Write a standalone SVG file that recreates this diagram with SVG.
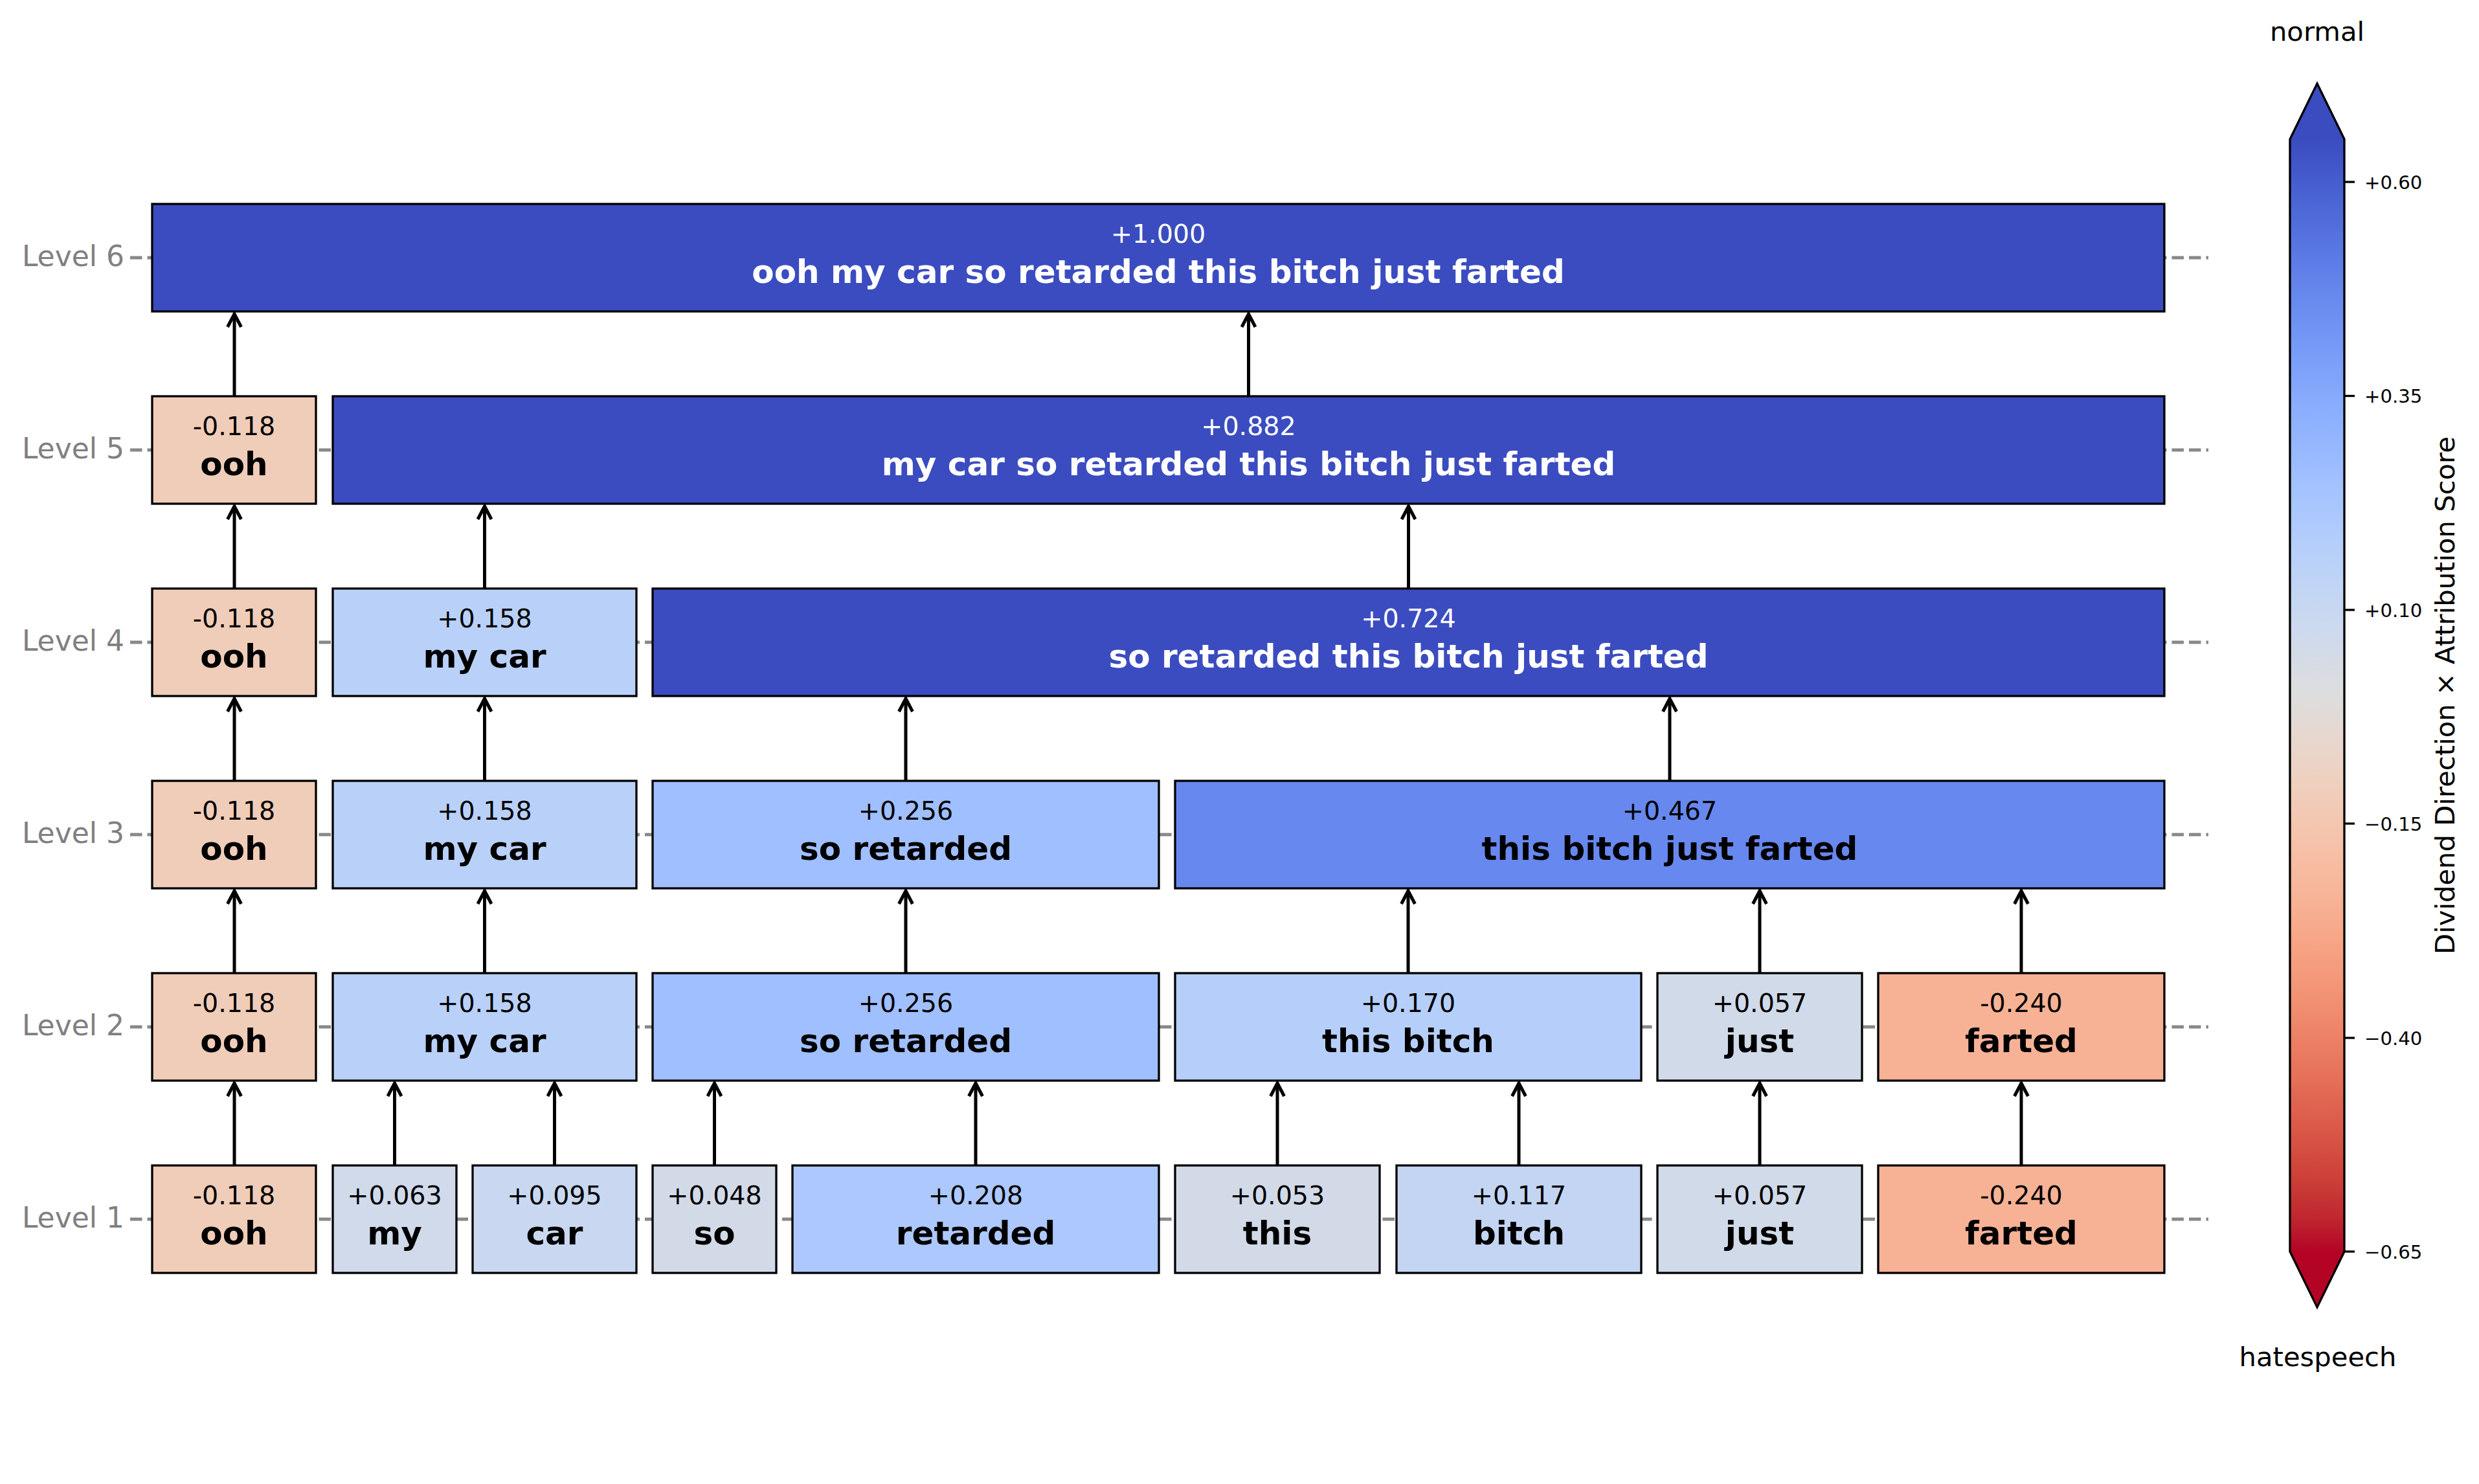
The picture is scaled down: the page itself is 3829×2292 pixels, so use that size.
<svg xmlns="http://www.w3.org/2000/svg" width="3829" height="2292" viewBox="0 0 3829 2292">
<style>
text{font-family:"DejaVu Sans","Liberation Sans",sans-serif}
.bg{fill:#ffffff}
.grid{stroke:#888888;stroke-width:5;stroke-dasharray:18.5 8;fill:none}
.box{stroke:#000000;stroke-width:3.3}
.sc{font-size:39.6px;text-anchor:middle;fill:#000000}
.wd{font-size:50px;font-weight:bold;text-anchor:middle;fill:#000000}
.wh{fill:#ffffff}
.lvl{font-size:44px;text-anchor:end;fill:#808080}
.arr{stroke:#000000;stroke-width:5;fill:none;marker-end:url(#ah)}
.tick{stroke:#000000;stroke-width:3.3}
.tl{font-size:29.2px;fill:#000000}
.cb{font-size:41.7px;fill:#000000;text-anchor:middle}
</style>
<defs>
<marker id="ah" markerUnits="userSpaceOnUse" viewBox="-30 -15 35 30" refX="0" refY="0" markerWidth="35" markerHeight="30" orient="auto" overflow="visible">
<path d="M-20,-10.5 L0,0 L-20,10.5" fill="none" stroke="#000000" stroke-width="5"/>
</marker>
<linearGradient id="cw" x1="0" y1="0" x2="0" y2="1">
<stop offset="0" stop-color="#3b4cc0"/>
<stop offset="0.03125" stop-color="#445acc"/>
<stop offset="0.0625" stop-color="#4d68d7"/>
<stop offset="0.09375" stop-color="#5775e1"/>
<stop offset="0.125" stop-color="#6282ea"/>
<stop offset="0.15625" stop-color="#6c8ef1"/>
<stop offset="0.1875" stop-color="#779af7"/>
<stop offset="0.21875" stop-color="#82a5fb"/>
<stop offset="0.25" stop-color="#8db0fe"/>
<stop offset="0.28125" stop-color="#98b9ff"/>
<stop offset="0.3125" stop-color="#a3c2ff"/>
<stop offset="0.34375" stop-color="#aec9fd"/>
<stop offset="0.375" stop-color="#b8d0f9"/>
<stop offset="0.40625" stop-color="#c2d5f4"/>
<stop offset="0.4375" stop-color="#ccd9ee"/>
<stop offset="0.46875" stop-color="#d5dbe6"/>
<stop offset="0.5" stop-color="#dddddd"/>
<stop offset="0.53125" stop-color="#e5d8d1"/>
<stop offset="0.5625" stop-color="#ecd3c5"/>
<stop offset="0.59375" stop-color="#f1ccb8"/>
<stop offset="0.625" stop-color="#f5c4ac"/>
<stop offset="0.65625" stop-color="#f7bba0"/>
<stop offset="0.6875" stop-color="#f7b194"/>
<stop offset="0.71875" stop-color="#f7a687"/>
<stop offset="0.75" stop-color="#f49a7b"/>
<stop offset="0.78125" stop-color="#f18d6f"/>
<stop offset="0.8125" stop-color="#ec7f63"/>
<stop offset="0.84375" stop-color="#e57058"/>
<stop offset="0.875" stop-color="#de604d"/>
<stop offset="0.90625" stop-color="#d55042"/>
<stop offset="0.9375" stop-color="#cb3e38"/>
<stop offset="0.96875" stop-color="#c0282f"/>
<stop offset="1" stop-color="#b40426"/>
</linearGradient>
</defs>
<rect class="bg" x="0" y="0" width="3829" height="2292"/>

<g id="gridlines">
<line class="grid" x1="201" y1="398" x2="3411" y2="398"/>
<line class="grid" x1="201" y1="695" x2="3411" y2="695"/>
<line class="grid" x1="201" y1="992" x2="3411" y2="992"/>
<line class="grid" x1="201" y1="1289" x2="3411" y2="1289"/>
<line class="grid" x1="201" y1="1586" x2="3411" y2="1586"/>
<line class="grid" x1="201" y1="1883" x2="3411" y2="1883"/>
</g>

<g id="level-labels">
<text class="lvl" x="192" y="410.5">Level 6</text>
<text class="lvl" x="192" y="707.5">Level 5</text>
<text class="lvl" x="192" y="1004.5">Level 4</text>
<text class="lvl" x="192" y="1301.5">Level 3</text>
<text class="lvl" x="192" y="1598.5">Level 2</text>
<text class="lvl" x="192" y="1895.5">Level 1</text>
</g>

<g id="connectors">
<line class="arr" x1="362" y1="612" x2="362" y2="485"/>
<line class="arr" x1="1928.5" y1="612" x2="1928.5" y2="485"/>
<line class="arr" x1="362" y1="909" x2="362" y2="782"/>
<line class="arr" x1="748.5" y1="909" x2="748.5" y2="782"/>
<line class="arr" x1="2175.5" y1="909" x2="2175.5" y2="782"/>
<line class="arr" x1="362" y1="1206" x2="362" y2="1079"/>
<line class="arr" x1="748.5" y1="1206" x2="748.5" y2="1079"/>
<line class="arr" x1="1399" y1="1206" x2="1399" y2="1079"/>
<line class="arr" x1="2579" y1="1206" x2="2579" y2="1079"/>
<line class="arr" x1="362" y1="1503" x2="362" y2="1376"/>
<line class="arr" x1="748.5" y1="1503" x2="748.5" y2="1376"/>
<line class="arr" x1="1399" y1="1503" x2="1399" y2="1376"/>
<line class="arr" x1="2175" y1="1503" x2="2175" y2="1376"/>
<line class="arr" x1="2718" y1="1503" x2="2718" y2="1376"/>
<line class="arr" x1="3122" y1="1503" x2="3122" y2="1376"/>
<line class="arr" x1="362" y1="1800" x2="362" y2="1673"/>
<line class="arr" x1="609.5" y1="1800" x2="609.5" y2="1673"/>
<line class="arr" x1="856.5" y1="1800" x2="856.5" y2="1673"/>
<line class="arr" x1="1103.5" y1="1800" x2="1103.5" y2="1673"/>
<line class="arr" x1="1507" y1="1800" x2="1507" y2="1673"/>
<line class="arr" x1="1973" y1="1800" x2="1973" y2="1673"/>
<line class="arr" x1="2346" y1="1800" x2="2346" y2="1673"/>
<line class="arr" x1="2718" y1="1800" x2="2718" y2="1673"/>
<line class="arr" x1="3122" y1="1800" x2="3122" y2="1673"/>
</g>

<!-- Level 6 -->
<g id="l6-all">
<rect class="box" x="235" y="315" width="3108" height="166" fill="#3b4cc0"/>
<text class="sc wh" x="1789" y="375">+1.000</text>
<text class="wd wh" x="1789" y="436.5">ooh my car so retarded this bitch just farted</text>
</g>

<!-- Level 5 -->
<g id="l5-ooh">
<rect class="box" x="235" y="612" width="253" height="166" fill="#f0cdb9"/>
<text class="sc" x="361.5" y="672">-0.118</text>
<text class="wd" x="361.5" y="733.5">ooh</text>
</g>
<g id="l5-rest">
<rect class="box" x="514" y="612" width="2829" height="166" fill="#3b4cc0"/>
<text class="sc wh" x="1928.5" y="672">+0.882</text>
<text class="wd wh" x="1928.5" y="733.5">my car so retarded this bitch just farted</text>
</g>

<!-- Level 4 -->
<g id="l4-ooh">
<rect class="box" x="235" y="909" width="253" height="166" fill="#f0cdb9"/>
<text class="sc" x="361.5" y="969">-0.118</text>
<text class="wd" x="361.5" y="1030.5">ooh</text>
</g>
<g id="l4-mycar">
<rect class="box" x="514" y="909" width="469" height="166" fill="#b9d1f8"/>
<text class="sc" x="748.5" y="969">+0.158</text>
<text class="wd" x="748.5" y="1030.5">my car</text>
</g>
<g id="l4-rest">
<rect class="box" x="1008" y="909" width="2335" height="166" fill="#3b4cc0"/>
<text class="sc wh" x="2175.5" y="969">+0.724</text>
<text class="wd wh" x="2175.5" y="1030.5">so retarded this bitch just farted</text>
</g>

<!-- Level 3 -->
<g id="l3-ooh">
<rect class="box" x="235" y="1206" width="253" height="166" fill="#f0cdb9"/>
<text class="sc" x="361.5" y="1266">-0.118</text>
<text class="wd" x="361.5" y="1327.5">ooh</text>
</g>
<g id="l3-mycar">
<rect class="box" x="514" y="1206" width="469" height="166" fill="#b9d1f8"/>
<text class="sc" x="748.5" y="1266">+0.158</text>
<text class="wd" x="748.5" y="1327.5">my car</text>
</g>
<g id="l3-soretarded">
<rect class="box" x="1008" y="1206" width="782" height="166" fill="#a0bfff"/>
<text class="sc" x="1399" y="1266">+0.256</text>
<text class="wd" x="1399" y="1327.5">so retarded</text>
</g>
<g id="l3-thisbitchjustfarted">
<rect class="box" x="1815" y="1206" width="1528" height="166" fill="#6788ee"/>
<text class="sc" x="2579" y="1266">+0.467</text>
<text class="wd" x="2579" y="1327.5">this bitch just farted</text>
</g>

<!-- Level 2 -->
<g id="l2-ooh">
<rect class="box" x="235" y="1503" width="253" height="166" fill="#f0cdb9"/>
<text class="sc" x="361.5" y="1563">-0.118</text>
<text class="wd" x="361.5" y="1624.5">ooh</text>
</g>
<g id="l2-mycar">
<rect class="box" x="514" y="1503" width="469" height="166" fill="#b9d1f8"/>
<text class="sc" x="748.5" y="1563">+0.158</text>
<text class="wd" x="748.5" y="1624.5">my car</text>
</g>
<g id="l2-soretarded">
<rect class="box" x="1008" y="1503" width="782" height="166" fill="#a0bfff"/>
<text class="sc" x="1399" y="1563">+0.256</text>
<text class="wd" x="1399" y="1624.5">so retarded</text>
</g>
<g id="l2-thisbitch">
<rect class="box" x="1815" y="1503" width="720" height="166" fill="#b6cffa"/>
<text class="sc" x="2175" y="1563">+0.170</text>
<text class="wd" x="2175" y="1624.5">this bitch</text>
</g>
<g id="l2-just">
<rect class="box" x="2560" y="1503" width="316" height="166" fill="#d1dae9"/>
<text class="sc" x="2718" y="1563">+0.057</text>
<text class="wd" x="2718" y="1624.5">just</text>
</g>
<g id="l2-farted">
<rect class="box" x="2901" y="1503" width="442" height="166" fill="#f7b295"/>
<text class="sc" x="3122" y="1563">-0.240</text>
<text class="wd" x="3122" y="1624.5">farted</text>
</g>

<!-- Level 1 -->
<g id="l1-ooh">
<rect class="box" x="235" y="1800" width="253" height="166" fill="#f0cdb9"/>
<text class="sc" x="361.5" y="1860">-0.118</text>
<text class="wd" x="361.5" y="1921.5">ooh</text>
</g>
<g id="l1-my">
<rect class="box" x="514" y="1800" width="191" height="166" fill="#d0daea"/>
<text class="sc" x="609.5" y="1860">+0.063</text>
<text class="wd" x="609.5" y="1921.5">my</text>
</g>
<g id="l1-car">
<rect class="box" x="730" y="1800" width="253" height="166" fill="#c9d8f0"/>
<text class="sc" x="856.5" y="1860">+0.095</text>
<text class="wd" x="856.5" y="1921.5">car</text>
</g>
<g id="l1-so">
<rect class="box" x="1008" y="1800" width="191" height="166" fill="#d3dae7"/>
<text class="sc" x="1103.5" y="1860">+0.048</text>
<text class="wd" x="1103.5" y="1921.5">so</text>
</g>
<g id="l1-retarded">
<rect class="box" x="1224" y="1800" width="566" height="166" fill="#adc8fd"/>
<text class="sc" x="1507" y="1860">+0.208</text>
<text class="wd" x="1507" y="1921.5">retarded</text>
</g>
<g id="l1-this">
<rect class="box" x="1815" y="1800" width="316" height="166" fill="#d2dae8"/>
<text class="sc" x="1973" y="1860">+0.053</text>
<text class="wd" x="1973" y="1921.5">this</text>
</g>
<g id="l1-bitch">
<rect class="box" x="2157" y="1800" width="378" height="166" fill="#c3d5f3"/>
<text class="sc" x="2346" y="1860">+0.117</text>
<text class="wd" x="2346" y="1921.5">bitch</text>
</g>
<g id="l1-just">
<rect class="box" x="2560" y="1800" width="316" height="166" fill="#d1dae9"/>
<text class="sc" x="2718" y="1860">+0.057</text>
<text class="wd" x="2718" y="1921.5">just</text>
</g>
<g id="l1-farted">
<rect class="box" x="2901" y="1800" width="442" height="166" fill="#f7b295"/>
<text class="sc" x="3122" y="1860">-0.240</text>
<text class="wd" x="3122" y="1921.5">farted</text>
</g>

<!-- Colorbar -->
<g id="colorbar">
<rect x="3537" y="215" width="84" height="1718" fill="url(#cw)"/>
<polygon points="3537,215.5 3579,129 3621,215.5" fill="#3b4cc0"/>
<polygon points="3537,1932.5 3579,2019 3621,1932.5" fill="#b40426"/>
<polygon points="3537,215 3579,129 3621,215 3621,1933 3579,2019 3537,1933" fill="none" stroke="#000000" stroke-width="3.3"/>
<line class="tick" x1="3621" y1="281" x2="3637" y2="281"/>
<line class="tick" x1="3621" y1="611.5" x2="3637" y2="611.5"/>
<line class="tick" x1="3621" y1="942" x2="3637" y2="942"/>
<line class="tick" x1="3621" y1="1272" x2="3637" y2="1272"/>
<line class="tick" x1="3621" y1="1603" x2="3637" y2="1603"/>
<line class="tick" x1="3621" y1="1933" x2="3637" y2="1933"/>
<text class="tl" x="3652" y="291.5">+0.60</text>
<text class="tl" x="3652" y="622">+0.35</text>
<text class="tl" x="3652" y="952.5">+0.10</text>
<text class="tl" x="3652" y="1282.5">−0.15</text>
<text class="tl" x="3652" y="1613.5">−0.40</text>
<text class="tl" x="3652" y="1943.5">−0.65</text>
<text class="cb" x="3791" y="1074" transform="rotate(-90 3791 1074)">Dividend Direction × Attribution Score</text>
<text class="cb" x="3579" y="62.5">normal</text>
<text class="cb" x="3580" y="2110">hatespeech</text>
</g>
</svg>
